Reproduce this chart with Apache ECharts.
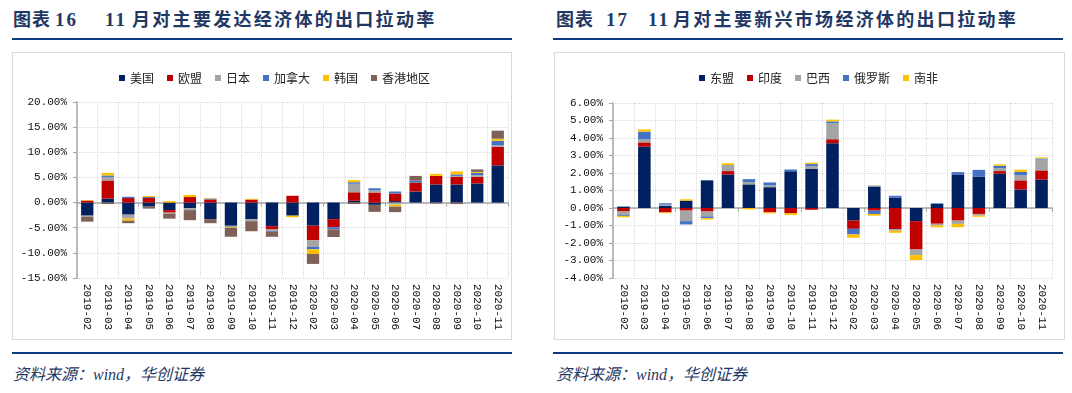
<!DOCTYPE html>
<html><head><meta charset="utf-8">
<script src="https://cdn.jsdelivr.net/npm/echarts@6/dist/echarts.min.js"></script>
<style>
body{margin:0;background:#fff;width:1072px;height:393px;position:relative;overflow:hidden}
.t{position:absolute;top:10px;font-family:'Liberation Serif','Noto Sans CJK SC',serif;font-weight:bold;font-size:18px;color:#1F3864;white-space:nowrap;line-height:20px}
.rule{position:absolute;height:2px;background:#0D3C7F}
.box{position:absolute;top:52px;height:288px;border:1px solid #d9d9d9;box-sizing:border-box}
.src{position:absolute;top:361px;font-family:'Liberation Serif','Noto Sans CJK SC',serif;font-style:italic;font-size:16px;color:#1F3864;white-space:nowrap}
.chart{position:absolute;top:52px;height:288px}
</style></head><body>
<div class="t" style="left:13px;letter-spacing:1px">图表</div>
<div class="t" style="left:55px;font-size:19px;letter-spacing:2px">16</div>
<div class="t" style="left:105px;font-size:19px;letter-spacing:2px">11</div>
<div class="t" style="left:132px;letter-spacing:2.3px">月对主要发达经济体的出口拉动率</div>
<div class="rule" style="left:12px;top:38px;width:500px"></div>
<div class="box" style="left:12px;width:500px"></div>
<div class="rule" style="left:12px;top:352px;width:500px"></div>
<div class="src" style="left:13px">资料来源：wind，华创证券</div>

<div class="t" style="left:556px;letter-spacing:1px">图表</div>
<div class="t" style="left:606px;font-size:19px;letter-spacing:2px">17</div>
<div class="t" style="left:648px;font-size:19px;letter-spacing:2px">11</div>
<div class="t" style="left:673px;letter-spacing:2.3px">月对主要新兴市场经济体的出口拉动率</div>
<div class="rule" style="left:553px;top:38px;width:510px"></div>
<div class="box" style="left:554px;width:511px"></div>
<div class="rule" style="left:553px;top:352px;width:510px"></div>
<div class="src" style="left:556px">资料来源：wind，华创证券</div>

<div id="c1" class="chart" style="left:12px;width:500px"></div>
<div id="c2" class="chart" style="left:554px;width:511px"></div>
<script>
// shared categories
var months = ['2019-02','2019-03','2019-04','2019-05','2019-06','2019-07','2019-08','2019-09','2019-10','2019-11','2019-12',
  '2020-02','2020-03','2020-04','2020-05','2020-06','2020-07','2020-08','2020-09','2020-10','2020-11'];

// Chart 16: developed economies (percentage points), positive and negative parts
var names1 = ['美国','欧盟','日本','加拿大','韩国','香港地区'];
var usPos  = [0,0.8,0,0,0,0,0,0,0,0,0, 0,0,0.35,0,0.3,2.2,3.6,3.6,3.8,7.4];
var usNeg  = [-2.6,0,-2.4,-0.8,-1.5,-1.1,-3.3,-4.6,-3.3,-4.7,-2.6, -4.6,-3.3,0,-0.45,0,0,0,0,0,0];
var euPos  = [0.4,3.6,0.9,0.9,0,1.1,0.6,0,0.6,0,1.35, 0,0,1.7,2.0,1.5,1.75,1.7,1.5,1.3,3.7];
var euNeg  = [0,0,0,0,-0.5,0,0,0,0,-0.65,0, -2.9,-1.6,0,0,0,0,0,0,0,0];
var jpPos  = [0,0.7,0,0,0,0,0,0,0,0,0, 0,0,1.7,0.45,0,0,0,0.2,0.35,0.3];
var jpNeg  = [-0.2,0,-0.8,0,-0.2,-0.4,0,0,-0.4,-0.25,0, -1.3,0,0,0,-0.4,0,0,0,0,0];
var caPos  = [0,0.3,0.25,0.2,0,0,0.2,0,0,0,0, 0,0,0.3,0.4,0.4,0.4,0,0.3,0.45,0.9];
var caNeg  = [0,0,0,0,0,0,0,-0.2,0,-0.2,0, -0.5,-0.45,0,0,0,0,0,0,0,0];
var krPos  = [0.1,0.5,0,0.2,0.3,0.4,0.1,0,0.15,0,0, 0,0,0.4,0,0,0,0.4,0.6,0.2,0.4];
var krNeg  = [0,0,-0.4,0,0,0,0,-0.2,0,0,-0.3, -0.9,0,0,0,-0.4,0,0,0,0,0];
var hkPos  = [0,0,0,0,0,0,0,0,0,0,0, 0,0,0,0,0,0.95,0,0,0.5,1.6];
var hkNeg  = [-1.0,-0.3,-0.5,-0.4,-1.0,-2.0,-0.8,-1.8,-2.0,-1.0,0, -2.0,-1.5,-0.3,-1.4,-1.1,0,-0.2,-0.3,0,0];
var ticks1 = {min:-15, max:20, step:5};

// Chart 17: emerging economies
var names2 = ['东盟','印度','巴西','俄罗斯','南非'];
var asPos = [0.08,3.5,0.13,0.42,1.58,1.92,1.35,1.19,2.1,2.23,3.7, 0,1.23,0.58,0,0.23,1.92,1.8,1.96,1.06,1.63];
var asNeg = [0,0,0,0,0,0,0,0,0,0,0, -0.72,0,0,-0.75,0,0,0,0,0,0];
var inPos = [0,0.25,0,0,0,0.19,0,0,0,0,0.23, 0,0,0,0,0,0,0,0.15,0.52,0.52];
var inNeg = [-0.2,0,-0.25,-0.15,-0.2,0,0,-0.25,-0.3,-0.1,0, -0.47,-0.15,-1.2,-1.62,-0.9,-0.72,-0.34,0,0,0];
var brPos = [0,0.17,0.06,0,0,0.27,0.13,0.1,0,0.15,0.92, 0,0.06,0,0,0,0,0,0.17,0.29,0.62];
var brNeg = [-0.2,0,0,-0.6,-0.28,0,0,0,0,0,0, 0,0,-0.1,-0.32,-0.1,-0.19,-0.1,0,0,0];
var ruPos = [0,0.44,0.08,0,0,0.06,0.17,0.17,0.1,0.13,0.1, 0,0,0.12,0,0.04,0.13,0.38,0.13,0.19,0.06];
var ruNeg = [-0.05,0,0,-0.19,-0.1,0,0,0,0,0,0, -0.32,-0.19,0,0,0,0,0,0,0,0];
var saPos = [0,0.13,0,0.08,0,0.12,0,0,0,0.08,0.1, 0,0,0,0,0,0,0,0.08,0.13,0.06];
var saNeg = [-0.08,0,-0.05,0,-0.08,0,-0.08,-0.06,-0.1,0,0, -0.19,-0.1,-0.12,-0.28,-0.1,-0.19,-0.06,0,0,0];
var ticks2 = {min:-4, max:6, step:1};

var colors = ['#002060','#C00000','#A5A5A5','#4472C4','#FFC000','#7F6158'];

function build(dom, names, posArr, negArr, tk, gridCfg, legendLeft){
  var chart = echarts.init(document.getElementById(dom));
  var series = [];
  names.forEach(function(n,i){
    series.push({name:n,type:'bar',stack:'p',barWidth:'60%',data:posArr[i],itemStyle:{color:colors[i]},xAxisIndex:0});
    series.push({name:n,type:'bar',stack:'n',barWidth:'60%',barGap:'-100%',data:negArr[i],itemStyle:{color:colors[i]},xAxisIndex:0});
  });
  var lab = {fontFamily:'Liberation Mono, monospace',fontSize:11,color:'#111'};
  chart.setOption({
    animation:false,
    color:colors,
    legend:{data:names,left:legendLeft,top:15,icon:'rect',itemWidth:6,itemHeight:6,itemGap:13,
      textStyle:{fontFamily:'Noto Sans CJK SC',fontSize:12,color:'#222'}},
    grid:gridCfg,
    xAxis:[
      {type:'category',data:months,position:'bottom',
        axisLine:{onZero:true,lineStyle:{color:'#A6A6A6',width:1.5}},
        axisTick:{show:true,length:4,lineStyle:{color:'#A6A6A6'}},
        axisLabel:{show:false},splitLine:{show:false}},
      {type:'category',data:months,position:'bottom',
        axisLine:{show:false,onZero:false},axisTick:{show:false},
        axisLabel:Object.assign({rotate:-90,margin:6,interval:0},lab),
        splitLine:{show:true,lineStyle:{color:'#D9D9D9',type:'dotted'}}}
    ],
    yAxis:{type:'value',min:tk.min,max:tk.max,interval:tk.step,
      axisLine:{show:true,lineStyle:{color:'#A6A6A6',width:1.5}},
      axisTick:{show:true,length:4,lineStyle:{color:'#A6A6A6'}},
      axisLabel:Object.assign({margin:10,formatter:function(v){return v.toFixed(2)+'%';}},lab),
      splitLine:{show:true,lineStyle:{color:'#D9D9D9',type:'dotted'}}},
    series:series
  });
}
build('c1',names1,[usPos,euPos,jpPos,caPos,krPos,hkPos],[usNeg,euNeg,jpNeg,caNeg,krNeg,hkNeg],ticks1,
  {left:65,top:50,width:431,height:176},102);
build('c2',names2,[asPos,inPos,brPos,ruPos,saPos],[asNeg,inNeg,brNeg,ruNeg,saNeg],ticks2,
  {left:59,top:51,width:439,height:175},140);
</script>
</body></html>
